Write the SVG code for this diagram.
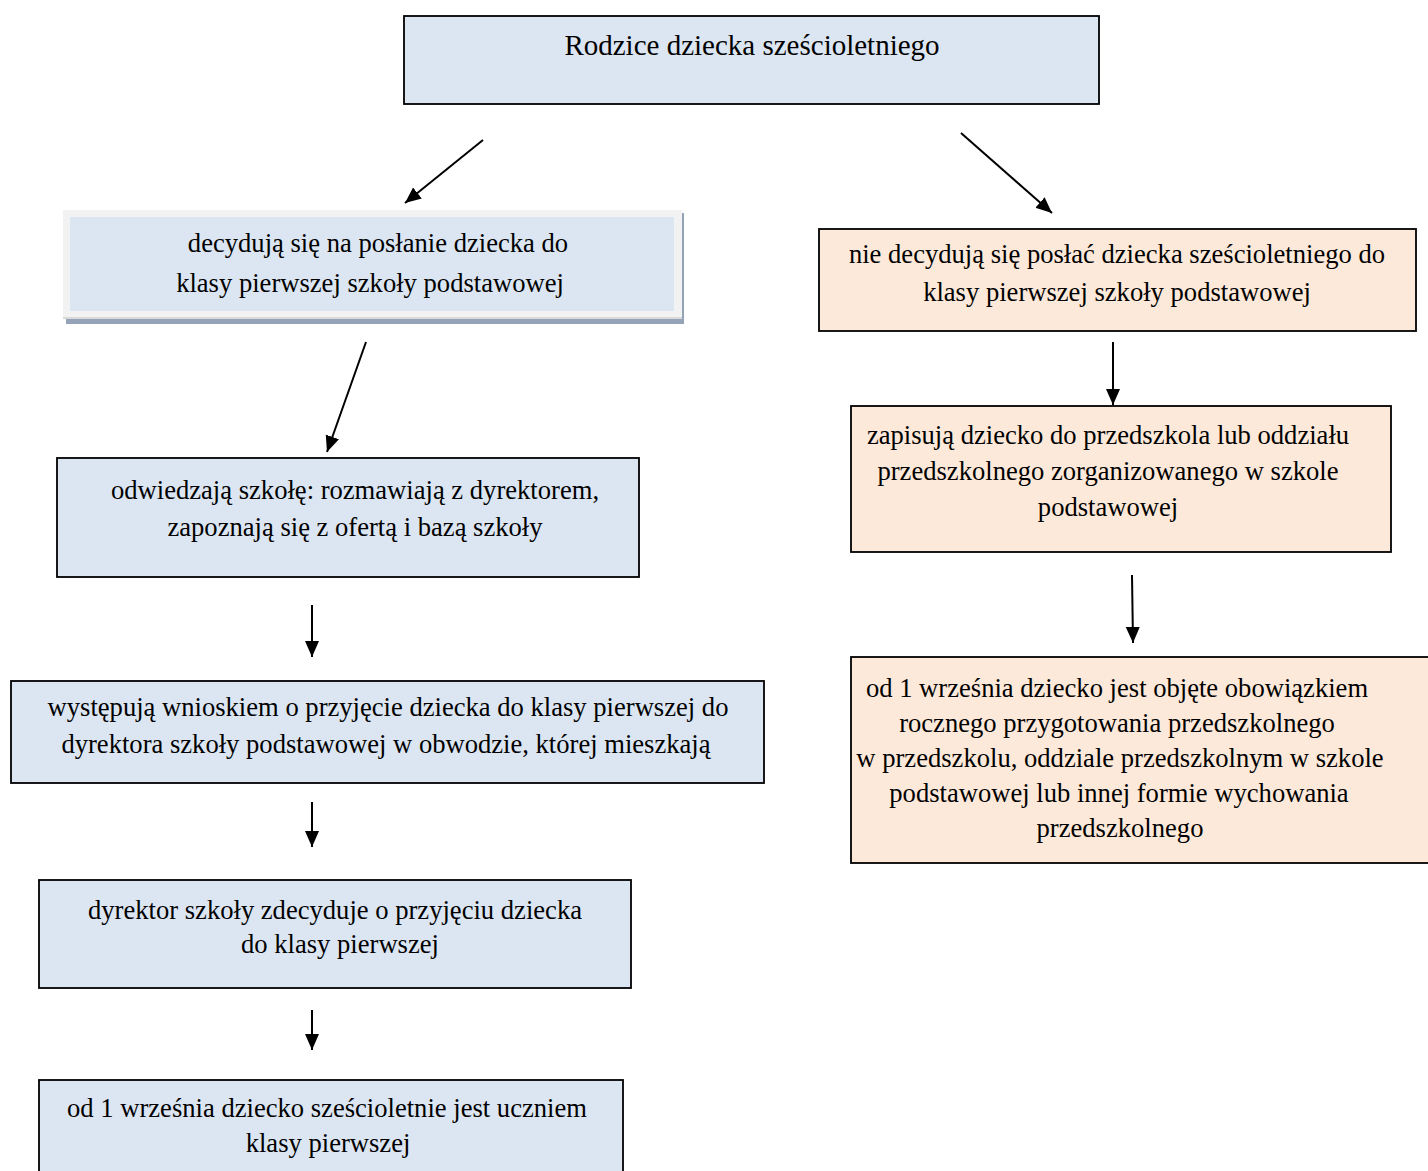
<svg xmlns="http://www.w3.org/2000/svg" width="1428" height="1171" viewBox="0 0 1428 1171">
<defs>
<style>
.box{stroke:#000;stroke-width:1.8}
.blue{fill:#DCE6F2}
.peach{fill:#FDE9D9}
text{font-family:"Liberation Serif","Times New Roman",serif;font-size:26.6px;fill:#000;text-anchor:middle}
.title{font-size:29px}
.conn line{stroke:#000;stroke-width:2;marker-end:url(#ah)}
</style>
<marker id="ah" markerUnits="userSpaceOnUse" markerWidth="18" markerHeight="16" refX="16" refY="7" orient="auto">
<path d="M0,0 L16,7 L0,14 Z" fill="#000"/>
</marker>
</defs>
<rect width="1428" height="1171" fill="#fff"/>
<g id="n-top">
<rect class="box blue" x="404" y="16" width="695" height="88"/>
<text class="title" x="752" y="55">Rodzice dziecka sześcioletniego</text>
</g>
<g id="n-decide">
<rect x="66" y="213" width="618" height="111" fill="#95A3B8"/>
<rect x="63" y="210" width="619" height="109" fill="#F2F2F2"/>
<rect x="63" y="317" width="619" height="2" fill="#D9D9D9"/>
<rect x="70" y="217" width="604" height="94" class="blue"/>
<text x="378" y="252">decydują się na posłanie dziecka do</text>
<text x="370" y="292">klasy pierwszej szkoły podstawowej</text>
</g>
<g id="n-nodecide">
<rect class="box peach" x="819" y="229" width="597" height="102"/>
<text x="1117" y="263">nie decydują się posłać dziecka sześcioletniego do</text>
<text x="1117" y="301">klasy pierwszej szkoły podstawowej</text>
</g>
<g id="n-visit">
<rect class="box blue" x="57" y="458" width="582" height="119"/>
<text x="355" y="499">odwiedzają szkołę: rozmawiają z dyrektorem,</text>
<text x="355" y="536">zapoznają się z ofertą i bazą szkoły</text>
</g>
<g id="n-enroll">
<rect class="box peach" x="851" y="406" width="540" height="146"/>
<text x="1108" y="444">zapisują dziecko do przedszkola lub oddziału</text>
<text x="1108" y="480">przedszkolnego zorganizowanego w szkole</text>
<text x="1108" y="516">podstawowej</text>
</g>
<g id="n-apply">
<rect class="box blue" x="11" y="681" width="753" height="102"/>
<text x="388" y="716">występują wnioskiem o przyjęcie dziecka do klasy pierwszej do</text>
<text x="386" y="753">dyrektora szkoły podstawowej w obwodzie, której mieszkają</text>
</g>
<g id="n-obligation">
<rect class="box peach" x="851" y="657" width="580" height="206"/>
<text x="1117" y="697">od 1 września dziecko jest objęte obowiązkiem</text>
<text x="1117" y="732">rocznego przygotowania przedszkolnego</text>
<text x="1120" y="767">w przedszkolu, oddziale przedszkolnym w szkole</text>
<text x="1119" y="802">podstawowej lub innej formie wychowania</text>
<text x="1120" y="837">przedszkolnego</text>
</g>
<g id="n-director">
<rect class="box blue" x="39" y="880" width="592" height="108"/>
<text x="335" y="919">dyrektor szkoły zdecyduje o przyjęciu dziecka</text>
<text x="340" y="953">do klasy pierwszej</text>
</g>
<g id="n-pupil">
<rect class="box blue" x="39" y="1080" width="584" height="95"/>
<text x="327" y="1117">od 1 września dziecko sześcioletnie jest uczniem</text>
<text x="328" y="1152">klasy pierwszej</text>
</g>
<g id="connectors" class="conn">
<line x1="483" y1="140" x2="405" y2="203"/>
<line x1="961" y1="133" x2="1052" y2="213"/>
<line x1="366" y1="342" x2="327" y2="452"/>
<line x1="1113" y1="342" x2="1113" y2="405"/>
<line x1="312" y1="605" x2="312" y2="657"/>
<line x1="1132" y1="575" x2="1133" y2="643"/>
<line x1="312" y1="802" x2="312" y2="847"/>
<line x1="312" y1="1010" x2="312" y2="1050"/>
</g>
</svg>
